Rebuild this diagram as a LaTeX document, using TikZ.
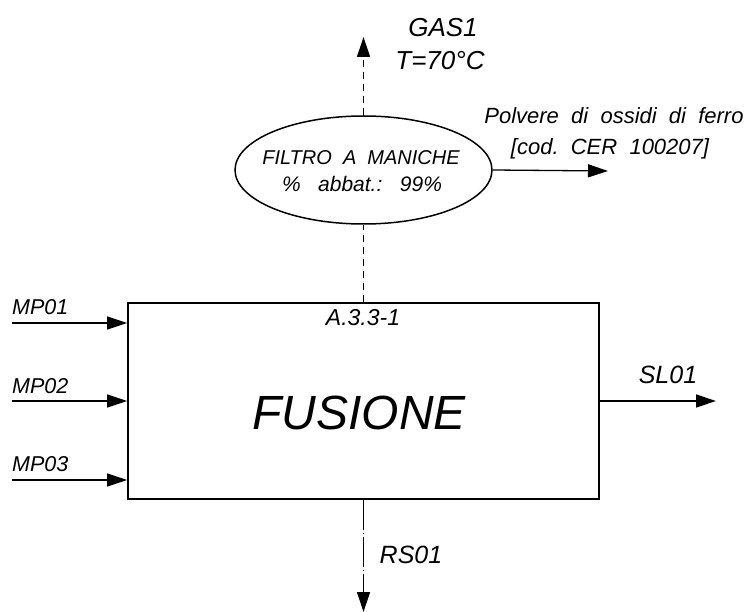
\documentclass[tikz,border=0pt]{standalone}
\usepackage{fontspec}
\setmainfont{Liberation Sans}
\usetikzlibrary{arrows.meta,shapes.geometric}
\tikzset{>={Triangle[length=20pt,width=13pt]}}
\newcommand\fsz[1]{\fontsize{#1}{#1}\selectfont\itshape}
\tikzstyle{flow}=[->,line width=1.3pt]
\tikzstyle{lbl}=[inner sep=0pt,anchor=base]

\begin{document}
\begin{tikzpicture}[x=1pt,y=-1pt]
  \useasboundingbox (0,0) rectangle (755,612);
  % process box and bag filter
  \node[draw,line width=1.7pt,minimum width=471pt,minimum height=196pt,inner sep=0pt] (box) at (363.5,401) {};
  \node[draw,ellipse,line width=1.5pt,minimum width=257pt,minimum height=108pt,inner sep=0pt] (filtro) at (363.5,170) {};
  \node[lbl,font=\fsz{48}] (fusione) at (359,429) {FUSIONE};
  \node[lbl,font=\fsz{23}] (codice) at (363,326) {A.3.3-1};
  \node[lbl,font=\fsz{20}] (filtro1) at (361,165) {FILTRO\ \ A\ \ MANICHE};
  \node[lbl,font=\fsz{21}] (filtro2) at (362,192) {\%\ \ \ abbat.:\ \ \ 99\%};

  % inlets
  \coordinate (mp1) at (12,323);
  \coordinate (mp2) at (12,401);
  \coordinate (mp3) at (12,480);
  \draw[flow] (mp1) -- (mp1 -| box.west);
  \draw[flow] (mp2) -- (mp2 -| box.west);
  \draw[flow] (mp3) -- (mp3 -| box.west);
  \node[lbl,anchor=base west,font=\fsz{21.5}] (mp1lbl) at (12,315) {MP01};
  \node[lbl,anchor=base west,font=\fsz{21.5}] (mp2lbl) at (12,393) {MP02};
  \node[lbl,anchor=base west,font=\fsz{21.5}] (mp3lbl) at (12,471) {MP03};

  % outlets
  \coordinate (slend) at (716,401);
  \draw[flow] (box.east) -- (slend);
  \node[lbl,font=\fsz{25}] (sl) at (668,383) {SL01};
  \coordinate (rsend) at (363.5,612);
  \draw[flow,dash pattern=on 30pt off 3pt on 1pt off 3pt] (box.south) -- (rsend);
  \node[lbl,font=\fsz{25}] (rs) at (411,563) {RS01};

  % gas line through filter
  \draw[line width=1.3pt,dash pattern=on 7pt off 5pt] (box.north) -- (filtro.south);
  \coordinate (gasend) at (363.5,37);
  \draw[flow,dash pattern=on 7pt off 5pt] (filtro.north) -- (gasend);
  \node[lbl,font=\fsz{26}] (gas) at (443,37) {GAS1};
  \node[lbl,font=\fsz{26}] (temp) at (440,70) {T=70°C};
  \coordinate (polvend) at (608,171);
  \draw[flow] (filtro.east) -- (polvend);
  \node[lbl,font=\fsz{22}] (polv1) at (614,124) {Polvere\ \ di\ \ ossidi\ \ di\ \ ferro};
  \node[lbl,font=\fsz{22}] (polv2) at (610,155) {[cod.\ \ CER\ \ 100207]};
\end{tikzpicture}
\end{document}
